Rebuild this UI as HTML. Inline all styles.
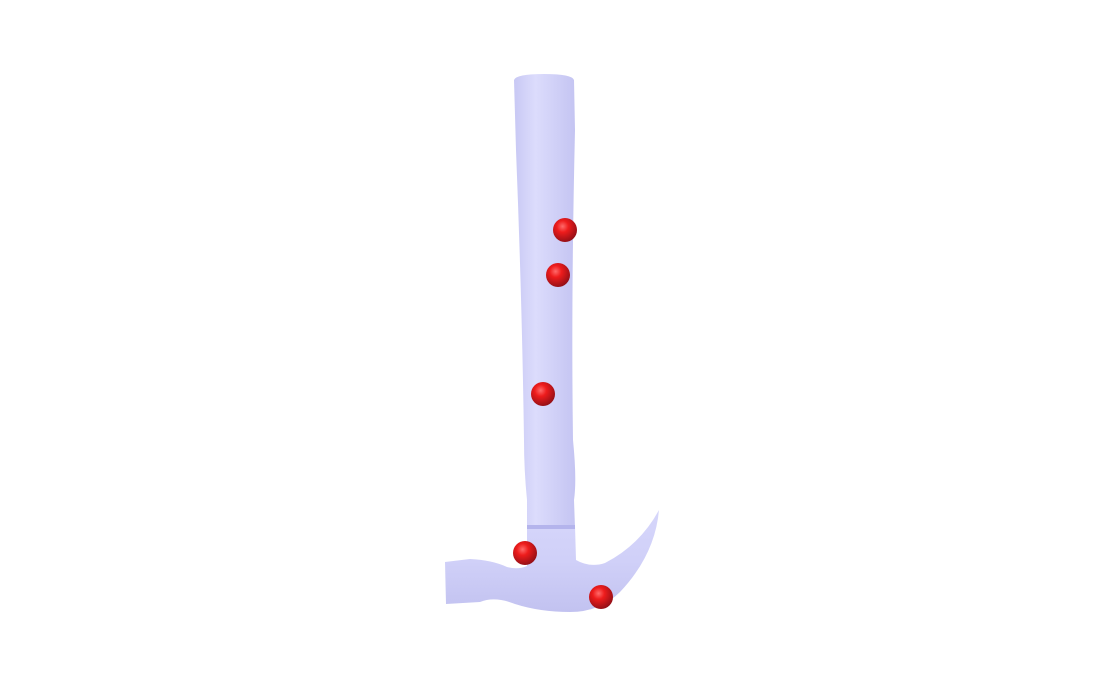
<!DOCTYPE html>
<html><head><meta charset="utf-8"><style>html,body{margin:0;padding:0;background:#fff}svg{display:block}</style></head>
<body>
<svg width="1104" height="690" viewBox="0 0 1104 690">
<defs>
<linearGradient id="hg" x1="0" x2="1" y1="0" y2="0">
<stop offset="0" stop-color="#c8c8f4"/><stop offset="0.35" stop-color="#dcdcfc"/><stop offset="1" stop-color="#c4c4f2"/>
</linearGradient>
<linearGradient id="hd" x1="0" x2="0" y1="0" y2="1">
<stop offset="0" stop-color="#d6d6fb"/><stop offset="0.5" stop-color="#d0d0f8"/><stop offset="1" stop-color="#c2c2f0"/>
</linearGradient>
<radialGradient id="sg" cx="0.4" cy="0.35" r="0.7">
<stop offset="0" stop-color="#ff6a6a"/><stop offset="0.35" stop-color="#ee1c1c"/><stop offset="1" stop-color="#8c0e16"/>
</radialGradient>
</defs>
<path fill="url(#hg)" d="M514,80 Q516,74 544,74 Q572,74 574,80 L575,130 Q571,300 573,440 Q577,480 574,500 L575,528 L527,528 L527,500 Q524,470 524,440 Q522,300 516,150 Z"/>
<path fill="url(#hd)" d="M527,526 L575,526 L576,560 Q590,568 605,563 Q640,545 659,510 Q655,555 620,592 Q600,612 570,612 Q540,612 515,604 Q495,596 480,602 L446,604 L445,562 L470,559 Q492,560 507,567 Q518,570 527,566 Z"/>
<rect x="527" y="525" width="48" height="4" fill="#b4b4ec"/>
<g id="spheres"></g>
</svg>
<script>
const xs = [565, 558, 543, 525, 601];
const ys = [230, 275, 394, 553, 597];
const g = document.getElementById('spheres');
for (let i = 0; i < xs.length; i++) {
  const c = document.createElementNS('http://www.w3.org/2000/svg', 'circle');
  c.setAttribute('cx', xs[i]); c.setAttribute('cy', ys[i]); c.setAttribute('r', 12);
  c.setAttribute('fill', 'url(#sg)');
  
  
  g.appendChild(c);
}
</script>
</body></html>
